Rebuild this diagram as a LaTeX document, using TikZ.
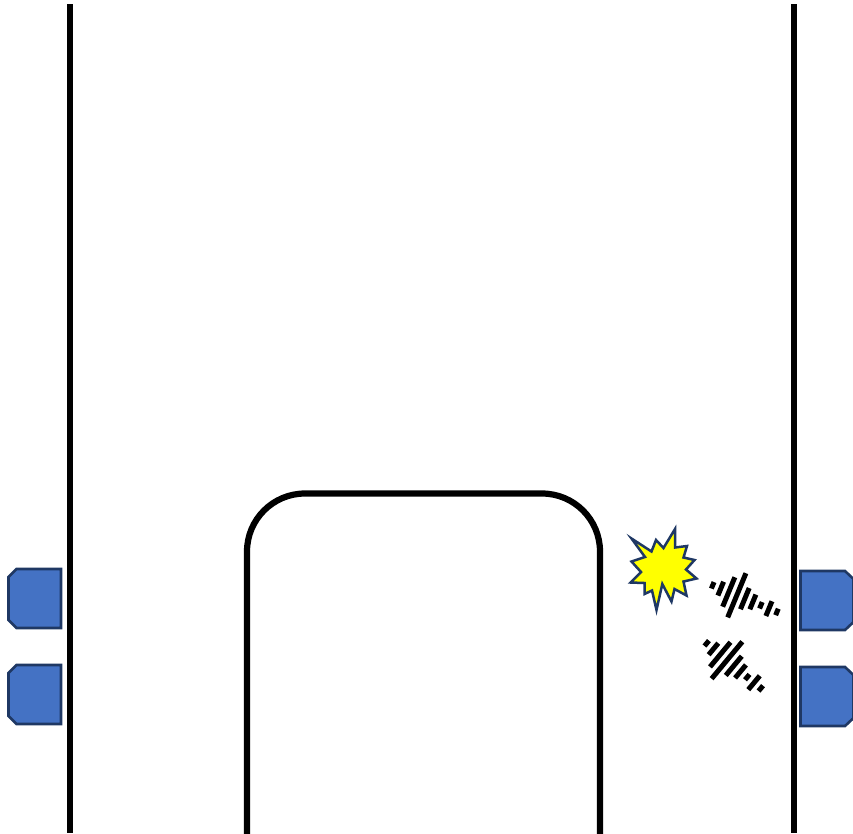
\documentclass[tikz,border=0pt]{standalone}
\usepackage{xcolor}
\usepackage{tikz}
\definecolor{figblue}{RGB}{68,114,196}
\definecolor{figdark}{RGB}{31,56,100}
\definecolor{figyellow}{RGB}{255,255,0}
\tikzset{
  wall/.style={draw=black, line width=6.2pt},
  pad/.style={draw=figdark, line width=2.6pt, fill=figblue, line join=miter},
  burst/.style={draw=figdark, line width=2.5pt, fill=figyellow, line join=miter},
  noisebar/.style={draw=black, line width=5pt}
}

\begin{document}
\begin{tikzpicture}[x=1pt,y=-1pt]
  \useasboundingbox (0,0) rectangle (853,833);
  \clip (0,0) rectangle (853,833);

  % walls
  \draw[wall] (69.7,4) -- (69.7,833);
  \draw[wall] (793.7,4) -- (793.7,833);
  \draw[wall, rounded corners=58pt] (247,840) -- (247,493.5) -- (600,493.5) -- (600,840);

  % left pads
  \foreach \y in {569,665}
    \draw[pad] (61,\y) -- (16.5,\y) -- (8.5,\y+8) -- (8.5,\y+51) -- (16.5,\y+59) -- (61,\y+59) -- cycle;
  % right pads
  \foreach \y in {571,667}
    \draw[pad] (800.5,\y) -- (845,\y) -- (853.5,\y+8) -- (853.5,\y+51) -- (845,\y+59) -- (800.5,\y+59) -- cycle;

  % spark
  \draw[burst] (631.5,538.5) -- (651.5,551.5) -- (656,540) -- (663.5,548) -- (675,529)
    -- (675,547.5) -- (687,546) -- (683.5,557.5) -- (694.5,560) -- (686,569.5)
    -- (696.5,578.5) -- (683.5,581.5) -- (686.5,595.5) -- (674.5,589) -- (671.5,601.5)
    -- (662.3,584) -- (656.5,610) -- (652,590.5) -- (644.5,594) -- (644.5,583)
    -- (630.5,582.5) -- (641,572) -- (631.5,561.5) -- (645,557) -- cycle;

  % upper noise
  \begin{scope}[shift={(712.7,585.3)}, x={(8.03pt,-3.33pt)}, y={(0.38pt,0.92pt)}]
    \foreach \k/\h in {0/3.5,1/7.5,2/16,3/24,4/11.5,5/8,6/3.5,7/8,8/3.5}
      \draw[noisebar] (\k,-\h) -- (\k,\h);
  \end{scope}

  % lower noise
  \begin{scope}[shift={(706.7,643.3)}, x={(6.76pt,-5.63pt)}, y={(0.64pt,0.77pt)}]
    \foreach \k/\h in {0/3.5,1/7.5,2/16,3/24,4/12.5,5/8.5,6/3.5,7/9,8/3.5}
      \draw[noisebar] (\k,-\h) -- (\k,\h);
  \end{scope}
\end{tikzpicture}
\end{document}
